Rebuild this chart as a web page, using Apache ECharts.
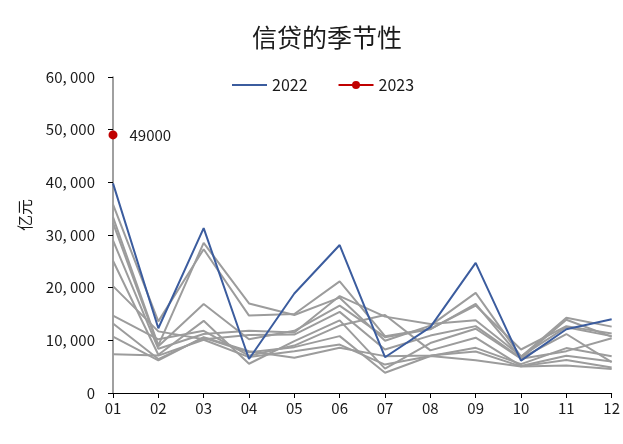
<!DOCTYPE html>
<html>
<head>
<meta charset="utf-8">
<script src="https://cdn.jsdelivr.net/npm/echarts@6/dist/echarts.min.js"></script>
<style>
  html, body { margin: 0; padding: 0; background: #fff; }
  #chart { width: 623px; height: 444px; }
</style>
</head>
<body>
<div id="chart"></div>
<script>
// months on the x axis
const months = ['01', '02', '03', '04', '05', '06', '07', '08', '09', '10', '11', '12'];

// historical years, drawn in grey (亿元)
const hist2012 = [7381, 7107, 10100, 6818, 7932, 9198, 5401, 7039, 6232, 5053, 5229, 4543];
const hist2013 = [10700, 6200, 10600, 7929, 6674, 8605, 6999, 7113, 7870, 5054, 6246, 4825];
const hist2014 = [13200, 6445, 10500, 7747, 8708, 10800, 3852, 7025, 8572, 5483, 8527, 6973];
const hist2015 = [14700, 10200, 11800, 7079, 9008, 12800, 14800, 8096, 10500, 5136, 7089, 5978];
const hist2016 = [25100, 7266, 13700, 5556, 9855, 13800, 4636, 9487, 12200, 6513, 7946, 10400];
const hist2017 = [20300, 11700, 10200, 11000, 11100, 15400, 8255, 10900, 12700, 6632, 11200, 5844];
const hist2018 = [29000, 8393, 11200, 11800, 11500, 18400, 14500, 13100, 13800, 6970, 12500, 10800];
const hist2019 = [32300, 8858, 16900, 10200, 11800, 16600, 10600, 12100, 16900, 6613, 13900, 10700];
const hist2020 = [33400, 9057, 28500, 17000, 14800, 18100, 9927, 12800, 19000, 6898, 14300, 12600];
const hist2021 = [35800, 13600, 27300, 14700, 15000, 21200, 10800, 12200, 16600, 8262, 12700, 11300];
const greyYears = [hist2012, hist2013, hist2014, hist2015, hist2016, hist2017, hist2018, hist2019, hist2020, hist2021];

const values2022 = [39800, 12300, 31300, 6454, 18900, 28100, 6790, 12500, 24700, 6152, 12100, 14000];
const values2023 = [49000];

const yTicks = [0, 10000, 20000, 30000, 40000, 50000, 60000];

const font = '"Noto Sans CJK SC", "Noto Sans", sans-serif';

const chart = echarts.init(document.getElementById('chart'));

const greySeries = greyYears.map((data, i) => ({
  type: 'line',
  name: 'hist' + i,
  data,
  symbol: 'none',
  silent: true,
  z: 1,
  lineStyle: { color: '#9c9c9c', width: 2 },
}));

chart.setOption({
  animation: false,
  textStyle: { fontFamily: font },
  title: {
    text: '信贷的季节性',
    left: 247,
    top: 20,
    textStyle: { fontSize: 25, fontWeight: 'normal', color: '#1a1a1a', fontFamily: font },
  },
  legend: {
    // 2022 has no marker in the legend, only the line
    data: [{ name: '2022', itemStyle: { opacity: 0 } }, '2023'],
    top: 72,
    left: 226,
    itemWidth: 35,
    itemHeight: 10,
    itemGap: 30,
    textStyle: { fontSize: 16, color: '#1a1a1a', fontFamily: font },
  },
  grid: { left: 113, right: 8, top: 77, bottom: 51 },
  xAxis: {
    type: 'category',
    data: months,
    boundaryGap: false,
    axisLine: { lineStyle: { color: '#000', width: 1 } },
    axisTick: { show: true, length: 5, lineStyle: { color: '#000' } },
    axisLabel: { fontSize: 15, color: '#1a1a1a', margin: 8 },
  },
  yAxis: {
    type: 'value',
    min: yTicks[0],
    max: yTicks[yTicks.length - 1],
    interval: 10000,
    name: '亿元',
    nameLocation: 'middle',
    nameRotate: 90,
    nameGap: 80,
    nameTextStyle: { fontSize: 16, color: '#1a1a1a', padding: [0, 0, 0, 40] },
    axisLine: { show: true, lineStyle: { color: '#808080', width: 1.5 } },
    axisTick: { show: true, length: 5, lineStyle: { color: '#000' } },
    splitLine: { show: false },
    axisLabel: {
      fontSize: 15,
      color: '#1a1a1a',
      margin: 18,
      formatter: (v) => v.toLocaleString('en-US').replace(',', ', '),
    },
  },
  series: [
    ...greySeries,
    {
      type: 'line',
      name: '2022',
      data: values2022,
      symbol: 'none',
      z: 3,
      lineStyle: { color: '#3b5c9e', width: 2 },
      itemStyle: { color: '#3b5c9e' },
    },
    {
      type: 'line',
      name: '2023',
      data: values2023,
      symbol: 'circle',
      symbolSize: 9,
      z: 4,
      lineStyle: { color: '#c00000', width: 3 },
      itemStyle: { color: '#c00000' },
      label: {
        show: true,
        position: 'right',
        distance: 12,
        fontSize: 15,
        color: '#1a1a1a',
      },
    },
  ],
});
</script>
</body>
</html>
